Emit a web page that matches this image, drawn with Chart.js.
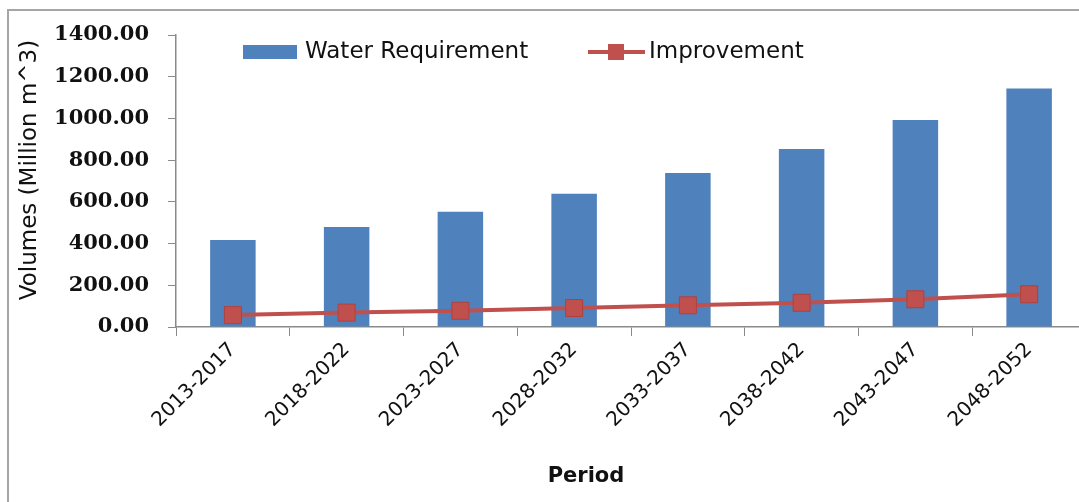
<!DOCTYPE html>
<html>
<head>
<meta charset="utf-8">
<script src="https://cdn.jsdelivr.net/npm/chart.js@4.4.0/dist/chart.umd.min.js"></script>
<style>
  html, body { margin: 0; padding: 0; background: #fff; overflow: hidden; }
  #wrap { position: relative; width: 1079px; height: 502px; overflow: hidden; }
  #waterChart { position: absolute; left: 0; top: 0; }
</style>
</head>
<body>
<div id="wrap">
  <canvas id="waterChart" width="1100" height="502"></canvas>
</div>
<script>
const periods = ["2013-2017", "2018-2022", "2023-2027", "2028-2032",
                 "2033-2037", "2038-2042", "2043-2047", "2048-2052"];
const waterRequirement = [417, 480, 553, 639, 738, 853, 992, 1144];
const improvement = [57, 69, 78, 91, 104, 116, 133, 157];
const yTicks = [0, 200, 400, 600, 800, 1000, 1200, 1400];

const BLUE = "#4F81BD";
const RED = "#C0504D";
const AXIS = "#8a8a8a";

document.addEventListener("DOMContentLoaded", function () {
  const ctx = document.getElementById("waterChart").getContext("2d");

  // outer chart frame (only top and left edges are in the crop)
  const frame = {
    id: "frame",
    beforeDraw(chart) {
      const c = chart.ctx;
      c.save();
      c.strokeStyle = "#a6a6a6";
      c.lineWidth = 2;
      c.beginPath();
      c.moveTo(8, 510);
      c.lineTo(8, 10);
      c.lineTo(1200, 10);
      c.stroke();
      c.restore();
    }
  };

  // legend and axis titles placed where Excel put them
  const excelLayout = {
    id: "excelLayout",
    afterDatasetsDraw(chart) {
      const c = chart.ctx;
      const ds = chart.data.datasets;
      const y = 52;
      c.save();
      c.font = "23px 'DejaVu Sans'";
      c.textBaseline = "middle";
      c.fillStyle = ds[0].backgroundColor;
      c.fillRect(243, y - 7, 54, 14);
      c.fillStyle = "#111";
      c.fillText(ds[0].label, 305, y);
      c.strokeStyle = ds[1].borderColor;
      c.lineWidth = 4;
      c.beginPath();
      c.moveTo(588, y);
      c.lineTo(645, y);
      c.stroke();
      c.fillStyle = ds[1].pointBackgroundColor;
      c.fillRect(608, y - 8, 16, 16);
      c.fillStyle = "#111";
      c.fillText(ds[1].label, 649, y);

      // axis titles
      c.textAlign = "center";
      c.font = "bold 21px 'DejaVu Sans'";
      c.fillText(chart.options.scales.x.title.text, 586, 477);
      c.translate(30, 170);
      c.rotate(-Math.PI / 2);
      c.font = "23px 'DejaVu Sans'";
      c.fillText(chart.options.scales.y.title.text, 0, 0);
      c.restore();
    }
  };

  new Chart(ctx, {
    type: "bar",
    data: {
      labels: periods,
      datasets: [
        {
          type: "bar",
          label: "Water Requirement",
          data: waterRequirement,
          backgroundColor: BLUE,
          borderWidth: 0,
          categoryPercentage: 1.0,
          barPercentage: 0.4,
          order: 1
        },
        {
          type: "line",
          label: "Improvement",
          data: improvement,
          borderColor: RED,
          borderWidth: 4,
          tension: 0,
          pointStyle: "rect",
          pointRadius: 12,
          pointBackgroundColor: RED,
          pointBorderColor: "#b0403d",
          pointBorderWidth: 1,
          order: 0
        }
      ]
    },
    options: {
      responsive: false,
      animation: false,
      layout: { padding: { top: 35, right: 14, left: 0, bottom: 0 } },
      plugins: {
        legend: { display: false },
        tooltip: { enabled: false }
      },
      scales: {
        x: {
          grid: {
            display: true,
            drawOnChartArea: false,
            offset: true,
            tickLength: 9,
            color: AXIS
          },
          border: { color: AXIS, width: 1.5 },
          ticks: {
            autoSkip: false,
            minRotation: 45,
            maxRotation: 45,
            padding: 2,
            color: "#111",
            font: { family: "'DejaVu Sans'", size: 20 }
          },
          title: { display: false, text: "Period" },
          afterFit(scale) { scale.height = 175; }
        },
        y: {
          min: 0,
          max: 1400,
          afterBuildTicks(scale) { scale.ticks = yTicks.map(v => ({ value: v })); },
          grid: {
            display: true,
            drawOnChartArea: false,
            tickLength: 8,
            color: AXIS
          },
          border: { color: AXIS, width: 1.5 },
          ticks: {
            padding: 19,
            color: "#111",
            font: { family: "'DejaVu Serif'", size: 21, weight: "bold" },
            callback: v => Number(v).toFixed(2)
          },
          title: { display: false, text: "Volumes (Million m^3)" },
          afterFit(scale) { scale.width = 176; }
        }
      }
    },
    plugins: [frame, excelLayout]
  });
});
</script>
</body>
</html>
